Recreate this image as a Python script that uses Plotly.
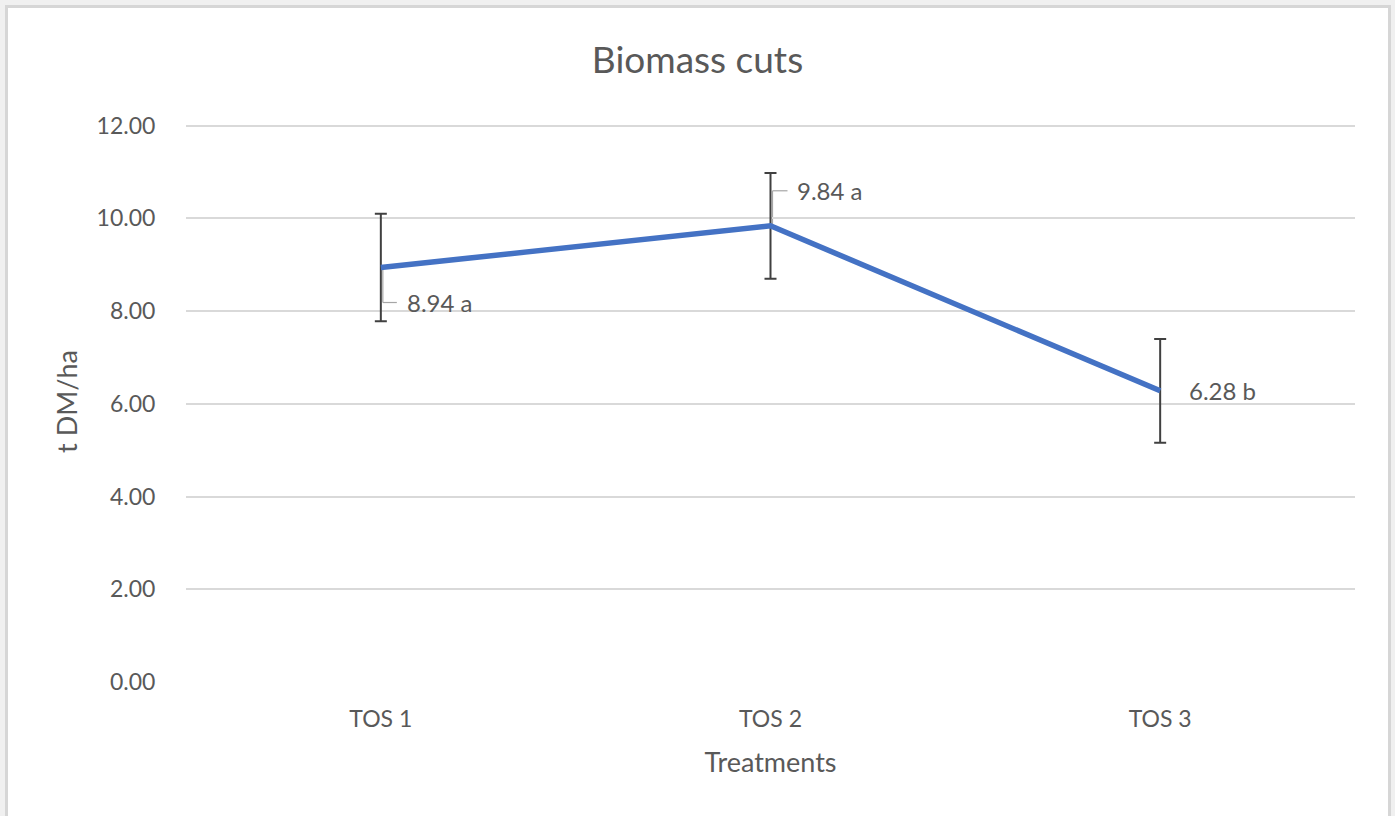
import plotly.graph_objects as go

categories = ["TOS 1", "TOS 2", "TOS 3"]
values = [8.94, 9.84, 6.28]
errors = [1.16, 1.14, 1.12]
letters = ["a", "a", "b"]
y_ticks = [0, 2, 4, 6, 8, 10, 12]

W, H = 1395, 816
L, R, T, B = 186, 40, 121, 134
pw, ph = W - L - R, H - T - B

def px_x(p):
    return (p - L) / pw

def px_y(p):
    return (H - B - p) / ph

font_family = "Lato, 'Open Sans', sans-serif"
txt = "#595959"

fig = go.Figure()
fig.add_trace(go.Scatter(
    x=categories, y=values, mode="lines",
    line=dict(color="#4472C4", width=5.5),
    error_y=dict(type="data", array=errors, visible=True,
                 color="#404040", thickness=2, width=6),
    showlegend=False, hoverinfo="skip",
))

# data labels with leader lines (offsets in pixels from each point)
label_offsets = [(24, 35), (24, -35), (27, 0)]
leaders = [
    [(2, 0), (2, 35), (16, 35)],
    [(2, 0), (2, -35), (17, -35)],
    None,
]
shapes = []
annotations = []
for i, (c, v, l) in enumerate(zip(categories, values, letters)):
    dx, dy = label_offsets[i]
    annotations.append(dict(
        x=i, y=v, xref="x", yref="y", text=f"{v:.2f} {l}",
        showarrow=False, xanchor="left", yanchor="middle",
        xshift=dx, yshift=-dy,
        font=dict(family=font_family, size=24, color=txt),
    ))
    if leaders[i]:
        pts = leaders[i]
        for (x0, y0), (x1, y1) in zip(pts[:-1], pts[1:]):
            shapes.append(dict(
                type="line", xref="x", yref="y",
                xsizemode="pixel", ysizemode="pixel",
                xanchor=i, yanchor=v,
                x0=x0, x1=x1, y0=-y0, y1=-y1,
                line=dict(color="#a6a6a6", width=1.2), layer="below",
            ))

# chart frame (white panel with light border on grey page)
shapes.insert(0, dict(
    type="rect", xref="paper", yref="paper", layer="below",
    x0=px_x(6.5), x1=px_x(1389.5), y0=px_y(830), y1=px_y(6.5),
    fillcolor="white", line=dict(color="#d6d6d6", width=3),
))

fig.update_layout(
    width=W, height=H,
    margin=dict(l=L, r=R, t=T, b=B),
    paper_bgcolor="#f0f0f0", plot_bgcolor="white",
    title=dict(text="Biomass cuts", x=0.5, xanchor="center",
               y=1 - 60 / H, yanchor="middle", yref="container",
               font=dict(family=font_family, size=37, color=txt)),
    xaxis=dict(
        range=[-0.5, 2.5], showgrid=False, zeroline=False, showline=False,
        ticks="outside", ticklen=16, tickcolor="rgba(0,0,0,0)",
        tickfont=dict(family=font_family, size=23, color=txt),
        title=dict(text="Treatments", standoff=22,
                   font=dict(family=font_family, size=27, color=txt)),
    ),
    yaxis=dict(
        range=[0, 12.1], tickvals=y_ticks, tickformat=".2f",
        showgrid=True, gridcolor="#d9d9d9", gridwidth=1.5,
        zeroline=False, showline=False,
        ticks="outside", ticklen=25, tickcolor="rgba(0,0,0,0)",
        tickfont=dict(family=font_family, size=23, color=txt),
        title=dict(text="t DM/ha", standoff=11,
                   font=dict(family=font_family, size=27, color=txt)),
    ),
    shapes=shapes,
    annotations=annotations,
)

fig.write_html(
    "out.html",
    config={"displayModeBar": False},
    post_script="document.body.style.margin='0';document.body.style.background='#f0f0f0';document.body.style.overflow='hidden';",
)
